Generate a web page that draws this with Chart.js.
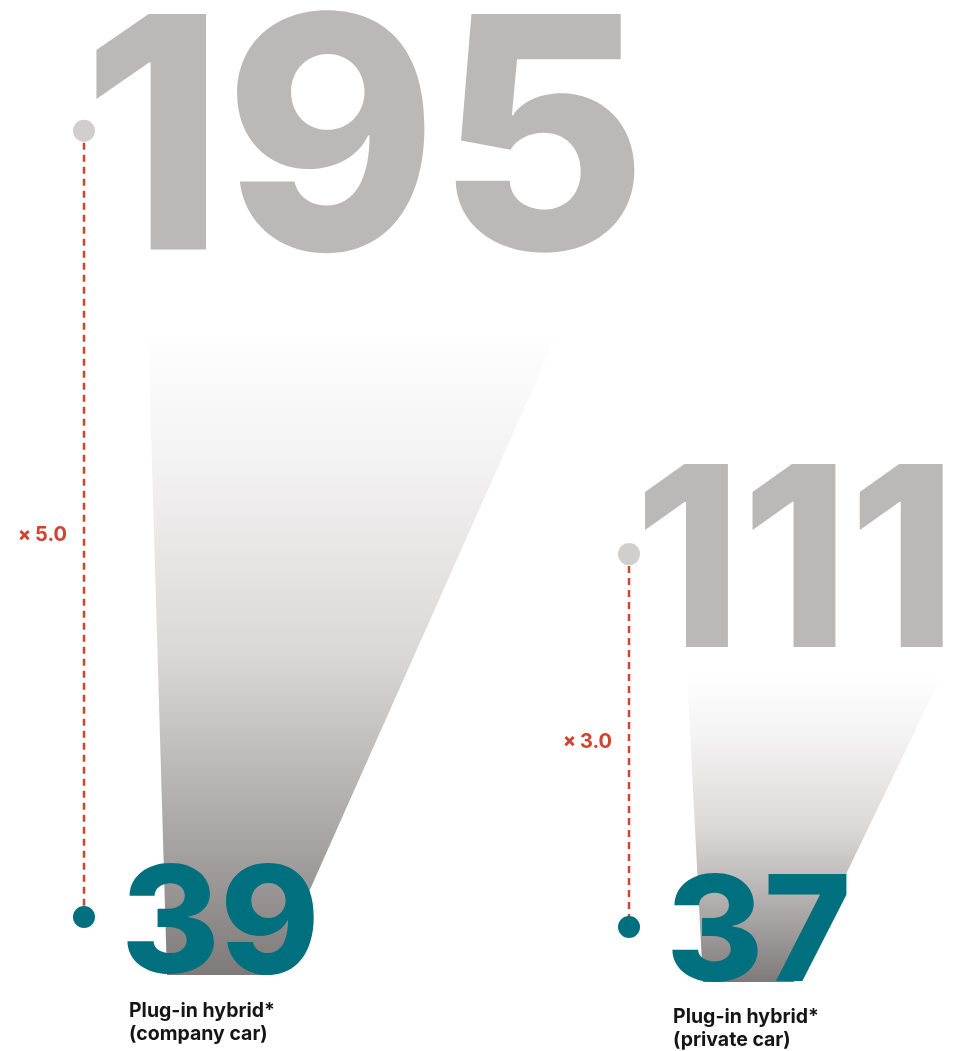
<!DOCTYPE html>
<html>
<head>
  <title>Plug-in hybrid ratio</title>
  <script src="https://cdn.jsdelivr.net/npm/chart.js"></script>
  <style>
    body {
      margin: 0;
      background: #ffffff;
    }

    .wrap {
      position: relative;
      width: 957px;
      height: 1051px;
    }
  </style>
</head>
<body>
  <div class="wrap">
    <canvas id="chart"></canvas>
  </div>

  <script>
    // data
    const categories = ["Plug-in hybrid* (company car)", "Plug-in hybrid* (private car)"];
    const captionLines = [
      ["Plug-in hybrid*", "(company car)"],
      ["Plug-in hybrid*", "(private car)"]
    ];
    const highValues = [195, 111];
    const lowValues = [39, 37];

    const RED = "#d0442f";
    const TEAL = "#00707f";
    const GREY_NUM = "#bab9b8";
    const GREY_DOT = "#d2cece";
    const FONT = "Inter, 'Open Sans', 'DejaVu Sans', sans-serif";

    // layout offsets (px) relative to each column's dots
    const layout = [
      {
        high: { l: 11, r: 553, t: -124, b: 122 },
        low: { l: 43, r: 231, t: -55, b: 58 },
        beam: { top: -589, bottom: 58, tl: 64, tr: 476, bl: 83, br: 188 },
        ratioDy: 11,
        caption: { dx: 45, y1: 100, y2: 123 }
      },
      {
        high: { l: 15, r: 315, t: -91, b: 93 },
        low: { l: 43, r: 218, t: -55, b: 55 },
        beam: { top: -252, bottom: 55, tl: 58, tr: 313, bl: 74, br: 165 },
        ratioDy: 1,
        caption: { dx: 44, y1: 96, y2: 119 }
      }
    ];

    // draw text stretched into a box (left, right, top, bottom)
    function fitText(ctx, text, weight, box, color) {
      ctx.save();
      ctx.font = weight + " 100px " + FONT;
      ctx.textAlign = "left";
      ctx.textBaseline = "alphabetic";
      const m = ctx.measureText(text);
      const w = m.actualBoundingBoxLeft + m.actualBoundingBoxRight;
      const h = m.actualBoundingBoxAscent + m.actualBoundingBoxDescent;
      const sx = (box.r - box.l) / w;
      const sy = (box.b - box.t) / h;
      ctx.translate(box.l, box.t + m.actualBoundingBoxAscent * sy);
      ctx.scale(sx, sy);
      ctx.fillStyle = color;
      ctx.fillText(text, m.actualBoundingBoxLeft, 0);
      ctx.restore();
    }

    const decorations = {
      id: "decorations",
      beforeDatasetsDraw(chart) {
        const ctx = chart.ctx;
        const xs = chart.scales.x;
        const ys = chart.scales.y;

        categories.forEach((cat, i) => {
          const x = xs.getPixelForValue(i);
          const yHi = ys.getPixelForValue(highValues[i]);
          const yLo = ys.getPixelForValue(lowValues[i]);
          const L = layout[i];

          // gradient beam
          const b = L.beam;
          const top = yLo + b.top;
          const bottom = yLo + b.bottom;
          const grad = ctx.createLinearGradient(0, top, 0, bottom);
          grad.addColorStop(0, "rgba(255,255,255,1)");
          grad.addColorStop(0.2, "#f4f3f3");
          grad.addColorStop(0.5, "#dbd8d7");
          grad.addColorStop(0.8, "#a7a3a2");
          grad.addColorStop(1, "#7e7a79");
          ctx.save();
          ctx.beginPath();
          ctx.moveTo(x + b.tl, top);
          ctx.lineTo(x + b.tr, top);
          ctx.lineTo(x + b.br, bottom);
          ctx.lineTo(x + b.bl, bottom);
          ctx.closePath();
          ctx.fillStyle = grad;
          ctx.fill();
          ctx.restore();

          // big numbers
          fitText(ctx, String(highValues[i]), 800,
            { l: x + L.high.l, r: x + L.high.r, t: yHi + L.high.t, b: yHi + L.high.b }, GREY_NUM);
          fitText(ctx, String(lowValues[i]), 800,
            { l: x + L.low.l, r: x + L.low.r, t: yLo + L.low.t, b: yLo + L.low.b }, TEAL);

          // ratio label
          const ratio = (highValues[i] / lowValues[i]).toFixed(1);
          const ym = (yHi + yLo) / 2 + L.ratioDy;
          ctx.save();
          ctx.fillStyle = RED;
          ctx.textBaseline = "middle";
          ctx.textAlign = "right";
          ctx.font = "700 20px " + FONT;
          ctx.fillText(ratio, x - 17, ym);
          const rw = ctx.measureText(ratio).width;
          ctx.font = "800 19px " + FONT;
          ctx.fillText("\u00d7", x - 21 - rw, ym);
          ctx.restore();

          // caption
          ctx.save();
          ctx.fillStyle = "#151515";
          ctx.textAlign = "left";
          ctx.textBaseline = "alphabetic";
          ctx.font = "700 19.5px " + FONT;
          ctx.fillText(captionLines[i][0], x + L.caption.dx, yLo + L.caption.y1);
          ctx.fillText(captionLines[i][1], x + L.caption.dx, yLo + L.caption.y2);
          ctx.restore();
        });
      }
    };

    const datasets = categories.map((cat, i) => ({
      label: cat,
      data: [
        { x: i, y: highValues[i] },
        { x: i, y: lowValues[i] }
      ],
      borderColor: RED,
      borderWidth: 2.5,
      borderDash: [7, 5],
      pointRadius: 11,
      pointHoverRadius: 11,
      pointBorderWidth: 0,
      pointBackgroundColor: [GREY_DOT, TEAL],
      fill: false
    }));

    new Chart(document.getElementById("chart"), {
      type: "line",
      data: { datasets: datasets },
      options: {
        animation: false,
        responsive: true,
        maintainAspectRatio: false,
        events: [],
        layout: { padding: 0, autoPadding: false },
        plugins: {
          legend: { display: false },
          tooltip: { enabled: false }
        },
        scales: {
          x: { type: "linear", display: false, min: -0.1541, max: 1.6018 },
          y: { type: "linear", display: false, min: 12.41, max: 220.94 }
        }
      },
      plugins: [decorations]
    });
  </script>
</body>
</html>
